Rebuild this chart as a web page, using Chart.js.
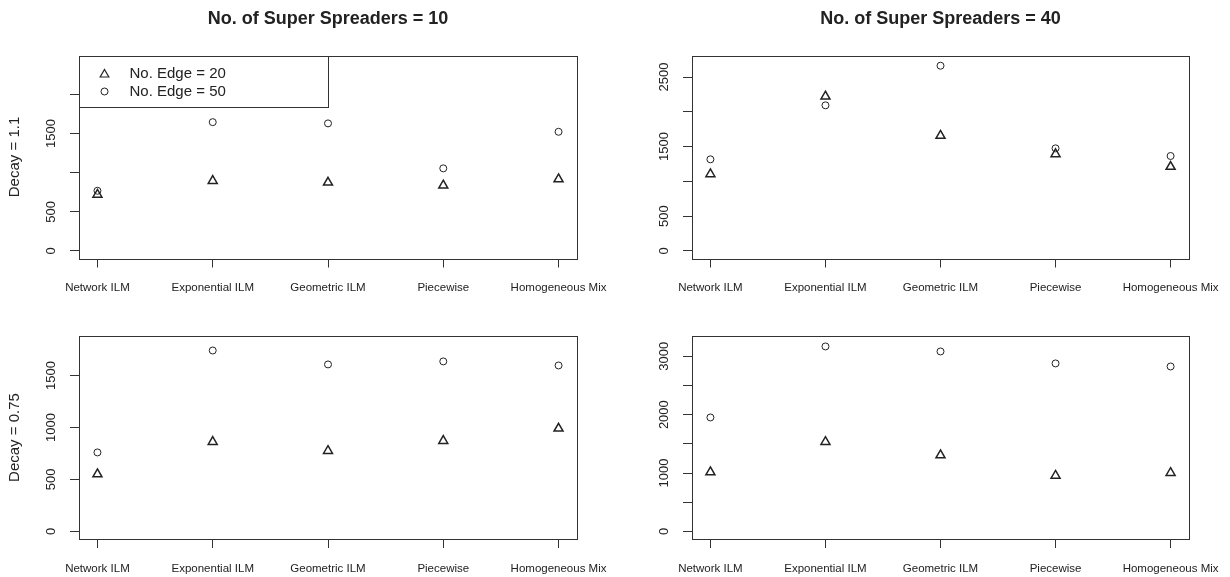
<!DOCTYPE html>
<html>
<head>
<meta charset="utf-8">
<script src="https://cdn.jsdelivr.net/npm/chart.js@4.4.1/dist/chart.umd.min.js"></script>
<style>
  body { margin: 0; background: #fff; }
  #wrap { position: relative; width: 1230px; height: 577px; }
  canvas { position: absolute; }
</style>
</head>
<body>
<div id="wrap">
  <canvas id="p1" width="613" height="310" style="left:0;top:0"></canvas>
  <canvas id="p2" width="617" height="310" style="left:613px;top:0"></canvas>
  <canvas id="p3" width="613" height="267" style="left:0;top:310px"></canvas>
  <canvas id="p4" width="617" height="267" style="left:613px;top:310px"></canvas>
</div>
<script>
var categories = ['Network ILM', 'Exponential ILM', 'Geometric ILM', 'Piecewise', 'Homogeneous Mix']

// super spreaders = 10
var ss10Decay11Edge20 = [720, 896, 875, 837, 917]
var ss10Decay11Edge50 = [769, 1645, 1629, 1055, 1522]
var ss10Decay075Edge20 = [551, 862, 775, 872, 990]
var ss10Decay075Edge50 = [760, 1740, 1606, 1635, 1596]

// super spreaders = 40
var ss40Decay11Edge20 = [1105, 2221, 1657, 1393, 1211]
var ss40Decay11Edge50 = [1317, 2093, 2662, 1475, 1365]
var ss40Decay075Edge20 = [1015, 1534, 1306, 957, 1003]
var ss40Decay075Edge50 = [1952, 3168, 3082, 2877, 2825]

var ticksTL = [0, 500, 1000, 1500, 2000]
var labelsTL = [0, 500, 1500]
var ticksTR = [0, 500, 1000, 1500, 2000, 2500]
var labelsTR = [0, 500, 1500, 2500]
var ticksBL = [0, 500, 1000, 1500]
var labelsBL = [0, 500, 1000, 1500]
var ticksBR = [0, 500, 1000, 1500, 2000, 2500, 3000]
var labelsBR = [0, 1000, 2000, 3000]

var legendLabels = ['No. Edge = 20', 'No. Edge = 50']

Chart.defaults.font.family = '"Liberation Sans", Arial, sans-serif'
Chart.defaults.color = '#222'

// R pads each axis range by 4%
function padRange(lo, hi) {
    var d = (hi - lo) * 0.04
    return { min: lo - d, max: hi + d }
}

function triangle(ctx, x, y, r) {
    ctx.beginPath()
    ctx.moveTo(x, y - r)
    ctx.lineTo(x + Math.sin(Math.PI * 2 / 3) * r, y + r / 2)
    ctx.lineTo(x - Math.sin(Math.PI * 2 / 3) * r, y + r / 2)
    ctx.closePath()
    ctx.stroke()
}

// no extra room for labels hanging past the ends of an axis
function noOverhang(axis) {
    axis.paddingLeft = 0
    axis.paddingRight = 0
    axis.paddingTop = 0
    axis.paddingBottom = 0
}

var boxPlugin = {
    id: 'box',
    afterDraw: function (chart) {
        var a = chart.chartArea, ctx = chart.ctx
        ctx.save()
        ctx.strokeStyle = '#333'
        ctx.lineWidth = 1
        ctx.strokeRect(Math.round(a.left) + 0.5, Math.round(a.top) + 0.5, Math.round(a.right - a.left), Math.round(a.bottom - a.top))
        ctx.restore()
    }
}

var legendPlugin = {
    id: 'rlegend',
    afterDraw: function (chart) {
        var a = chart.chartArea, ctx = chart.ctx
        var x0 = Math.round(a.left) + 0.5, y0 = Math.round(a.top) + 0.5
        ctx.save()
        ctx.fillStyle = '#fff'
        ctx.strokeStyle = '#333'
        ctx.lineWidth = 1
        ctx.fillRect(x0, y0, 249, 51)
        ctx.strokeRect(x0, y0, 249, 51)
        ctx.strokeStyle = '#222'
        ctx.lineWidth = 1.2
        triangle(ctx, x0 + 25, y0 + 18, 5)
        ctx.lineWidth = 1
        ctx.beginPath()
        ctx.arc(x0 + 25, y0 + 35, 3.5, 0, Math.PI * 2)
        ctx.stroke()
        ctx.fillStyle = '#222'
        ctx.font = '15px "Liberation Sans", Arial, sans-serif'
        ctx.textBaseline = 'middle'
        ctx.fillText(legendLabels[0], x0 + 50, y0 + 17)
        ctx.fillText(legendLabels[1], x0 + 50, y0 + 35)
        ctx.restore()
    }
}

function makePanel(id, p) {
    var yr = padRange(0, p.ylim)
    var xr = padRange(1, categories.length)
    var toPoints = function (vals) {
        return vals.map(function (v, i) { return { x: i + 1, y: v } })
    }
    var plugins = [boxPlugin]
    if (p.legend) plugins.push(legendPlugin)

    return new Chart(document.getElementById(id), {
        type: 'scatter',
        data: {
            datasets: [{
                label: legendLabels[0],
                data: toPoints(p.edge20),
                pointStyle: 'triangle',
                pointRadius: 5.2,
                borderWidth: 1.5,
                borderColor: '#222',
                backgroundColor: 'rgba(0,0,0,0)'
            }, {
                label: legendLabels[1],
                data: toPoints(p.edge50),
                pointStyle: 'circle',
                pointRadius: 3.5,
                borderWidth: 1,
                borderColor: '#222',
                backgroundColor: 'rgba(0,0,0,0)'
            }]
        },
        options: {
            responsive: false,
            animation: false,
            devicePixelRatio: 1,
            events: [],
            layout: {
                padding: { top: p.padTop, right: p.padRight, left: 0, bottom: 0 }
            },
            scales: {
                x: {
                    type: 'linear',
                    min: xr.min,
                    max: xr.max,
                    afterBuildTicks: function (axis) {
                        axis.ticks = categories.map(function (c, i) { return { value: i + 1 } })
                    },
                    afterFit: function (axis) {
                        axis.height = p.xHeight
                        noOverhang(axis)
                    },
                    ticks: {
                        autoSkip: false,
                        minRotation: 0,
                        maxRotation: 0,
                        padding: 13.5,
                        color: '#222',
                        font: { size: 11.5 },
                        callback: function (v) { return categories[v - 1] }
                    },
                    grid: { drawOnChartArea: false, tickLength: 9, color: '#333' },
                    border: { display: false }
                },
                y: {
                    type: 'linear',
                    min: yr.min,
                    max: yr.max,
                    afterBuildTicks: function (axis) {
                        axis.ticks = p.yTicks.map(function (v) { return { value: v } })
                    },
                    afterFit: function (axis) {
                        axis.width = 79
                        noOverhang(axis)
                    },
                    ticks: {
                        autoSkip: false,
                        minRotation: 90,
                        maxRotation: 90,
                        crossAlign: 'center',
                        padding: 4,
                        color: '#222',
                        font: { size: 13 },
                        callback: function (v) { return p.yLabels.indexOf(v) >= 0 ? String(v) : '' }
                    },
                    grid: { drawOnChartArea: false, tickLength: 9, color: '#333' },
                    border: { display: false },
                    title: {
                        display: !!p.yTitle,
                        text: p.yTitle,
                        color: '#222',
                        font: { size: 15 },
                        padding: { top: 6, bottom: 0 }
                    }
                }
            },
            plugins: {
                legend: { display: false },
                tooltip: { enabled: false },
                title: {
                    display: !!p.title,
                    text: p.title,
                    fullSize: false,
                    color: '#222',
                    font: { size: 18, weight: 'bold' },
                    padding: { top: 8, bottom: 25.9 }
                }
            }
        },
        plugins: plugins
    })
}

makePanel('p1', {
    edge20: ss10Decay11Edge20, edge50: ss10Decay11Edge50, ylim: 2400,
    yTicks: ticksTL, yLabels: labelsTL, title: 'No. of Super Spreaders = 10', yTitle: 'Decay = 1.1',
    legend: true, padTop: 0, padRight: 36, xHeight: 51.5
})
makePanel('p2', {
    edge20: ss40Decay11Edge20, edge50: ss40Decay11Edge50, ylim: 2701,
    yTicks: ticksTR, yLabels: labelsTR, title: 'No. of Super Spreaders = 40',
    padTop: 0, padRight: 41, xHeight: 51.5
})
makePanel('p3', {
    edge20: ss10Decay075Edge20, edge50: ss10Decay075Edge50, ylim: 1807,
    yTicks: ticksBL, yLabels: labelsBL, yTitle: 'Decay = 0.75',
    padTop: 26, padRight: 36, xHeight: 38
})
makePanel('p4', {
    edge20: ss40Decay075Edge20, edge50: ss40Decay075Edge50, ylim: 3218,
    yTicks: ticksBR, yLabels: labelsBR,
    padTop: 26, padRight: 41, xHeight: 38
})
</script>
</body>
</html>
